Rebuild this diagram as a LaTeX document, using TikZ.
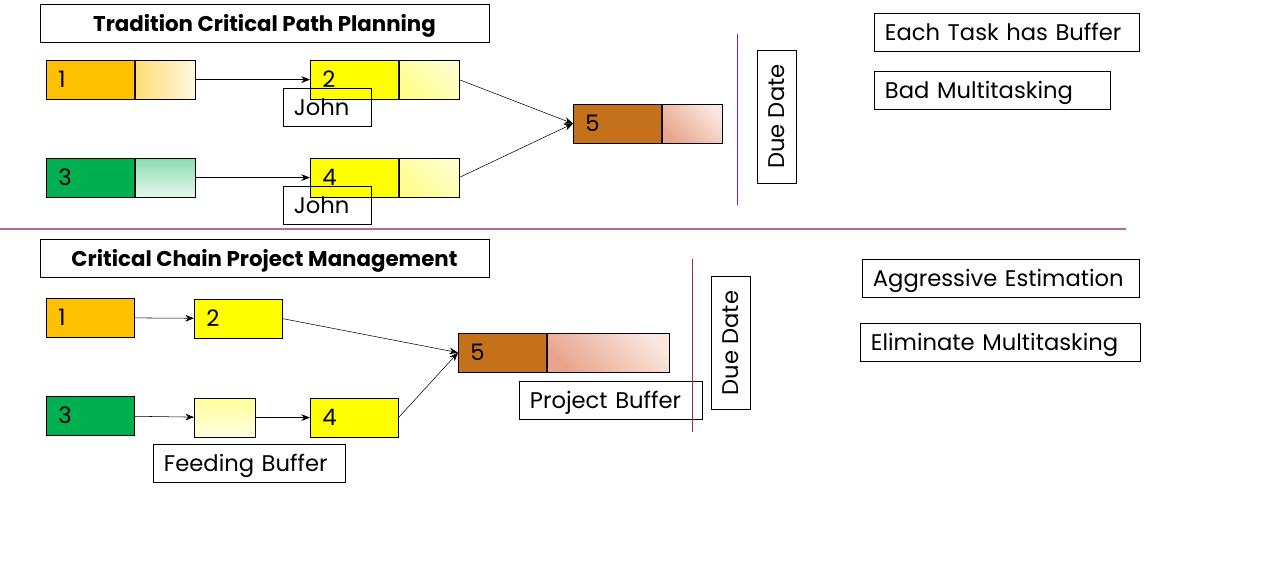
\documentclass[tikz,border=0pt]{standalone}
\usepackage{fontspec}
\setmainfont{Poppins}
\usetikzlibrary{positioning,arrows.meta}
\definecolor{taskorange}{RGB}{255,192,0}
\definecolor{taskyellow}{RGB}{255,255,0}
\definecolor{taskgreen}{RGB}{0,176,80}
\definecolor{taskbrown}{RGB}{197,112,26}
\definecolor{bufpink}{RGB}{232,165,142}
\definecolor{bufpale}{RGB}{250,230,222}
\definecolor{lineplum}{RGB}{150,40,105}
\tikzset{
  task/.style={draw, anchor=north west, minimum width=66pt, minimum height=29pt,
    text width=48pt, inner xsep=9pt, align=left},
  buf/.style={draw, minimum width=45pt, minimum height=29pt, inner sep=0pt},
  lbl/.style={draw, anchor=north west, minimum height=28.5pt, inner xsep=8pt, inner ysep=0pt,
    align=left, text height=1.24em, text depth=0pt},
  head/.style={draw, minimum width=337pt, minimum height=28.5pt, inner ysep=0pt,
    text height=1.34em, text depth=0pt, font=\fontsize{16}{18}\selectfont\bfseries},
  duebox/.style={draw, rotate=90, minimum width=100pt, minimum height=29pt, inner sep=0pt}
}
\begin{document}
\begin{tikzpicture}[>={Stealth[length=6.5pt,width=5pt]}, x=0.75pt, y=-0.75pt, font=\fontsize{17}{19}\selectfont]
  \useasboundingbox (0,0) rectangle (1268,577);
  % traditional plan
  \node[head] (head1) at (264.5,23) {Tradition Critical Path Planning};
  \node[task, fill=taskorange] (t1) at (46,60) {1};
  \node[buf, right=0pt of t1, left color=taskorange!55, right color=taskorange!12] (b1) {};
  \node[task, fill=taskyellow] (t2) at (310,60) {2};
  \node[buf, right=0pt of t2, left color=taskyellow!45, right color=taskyellow!20, shading angle=135] (b2) {};
  \node[task, fill=taskgreen] (t3) at (46,158) {3};
  \node[buf, right=0pt of t3, top color=taskgreen!45, bottom color=taskgreen!10] (b3) {};
  \node[task, fill=taskyellow] (t4) at (310,158) {4};
  \node[buf, right=0pt of t4, left color=taskyellow!45, right color=taskyellow!20, shading angle=135] (b4) {};
  \node[task, fill=taskbrown] (t5) at (573,104) {5};
  \node[buf, right=0pt of t5, left color=bufpink, right color=bufpale, shading angle=135] (b5) {};
  \node[lbl, text width=50pt] (john1) at (283,88) {John};
  \node[lbl, text width=50pt] (john2) at (283,186) {John};
  \draw[->] (b1) -- (t2);
  \draw[->] (b3) -- (t4);
  \draw[->] (b2.east) -- (t5.west);
  \draw[->] (b4.east) -- (t5.west);
  \draw[lineplum] (737,34) -- (737,205);
  \node[duebox] (due1) at (776.5,116.5) {Due Date};
  \node[lbl, text width=183pt] (note1) at (874,13) {Each Task has Buffer};
  \node[lbl, text width=161pt] (note2) at (874,71) {Bad Multitasking};
  % separator
  \draw[lineplum!70, line width=1.2pt] (0,229) -- (1126,229);
  % critical chain
  \node[head] (head2) at (264.5,258) {Critical Chain Project Management};
  \node[task, fill=taskorange] (u1) at (46,298) {1};
  \node[task, fill=taskyellow] (u2) at (194,299) {2};
  \node[task, fill=taskgreen] (u3) at (46,396) {3};
  \node[buf, anchor=north west, minimum width=46pt, top color=taskyellow!40, bottom color=taskyellow!12] (fb) at (194,398) {};
  \node[task, fill=taskyellow] (u4) at (310,398) {4};
  \node[task, fill=taskbrown] (u5) at (458,333) {5};
  \node[buf, right=0pt of u5, minimum width=92pt, left color=bufpink, right color=bufpale, shading angle=135] (pb) {};
  \draw[->] (u1) -- (u2);
  \draw[->] (u3) -- (fb);
  \draw[->] (fb) -- (u4);
  \draw[->] (u2.east) -- (u5.west);
  \draw[->] (u4.east) -- (u5.west);
  \node[lbl, text width=128pt] (feed) at (153,444) {Feeding Buffer};
  \node[lbl, text width=121pt] (proj) at (519,381) {Project Buffer};
  \draw[lineplum] (692,259) -- (692,432);
  \node[duebox] (due2) at (730.5,343) {Due Date};
  \node[lbl, text width=192pt] (note3) at (862,259) {Aggressive Estimation};
  \node[lbl, text width=194pt] (note4) at (860,323) {Eliminate Multitasking};
\end{tikzpicture}
\end{document}
